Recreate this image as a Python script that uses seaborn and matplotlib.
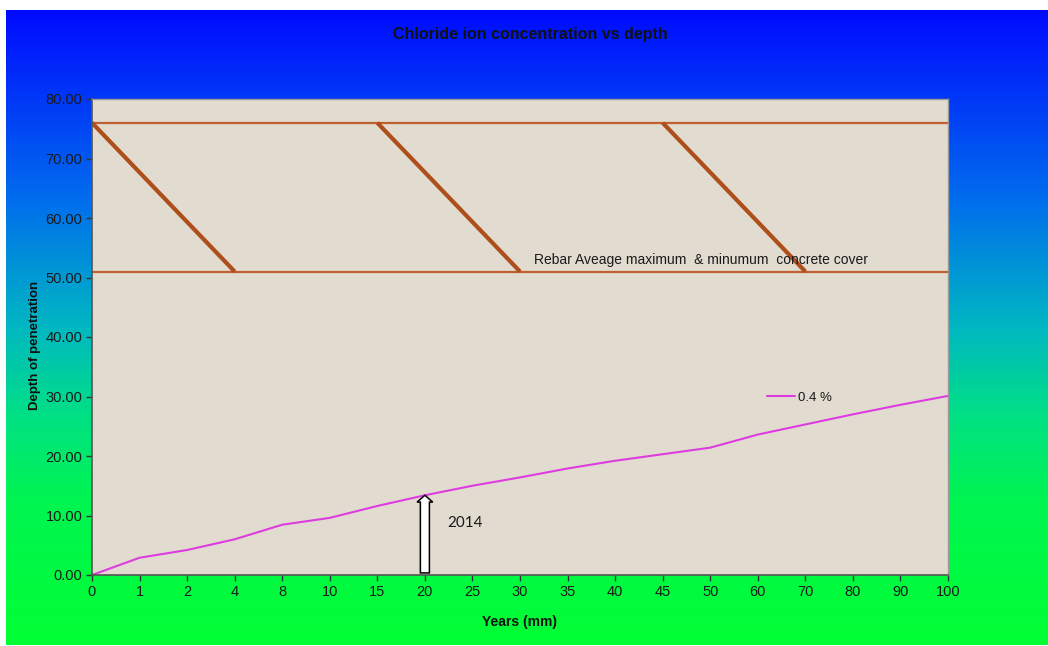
import numpy as np
import pandas as pd
import matplotlib
matplotlib.use("Agg")
import matplotlib.pyplot as plt
from matplotlib.colors import LinearSegmentedColormap
from matplotlib.patches import FancyArrow
import seaborn as sns

# ---- data -------------------------------------------------------------
years = ["0", "1", "2", "4", "8", "10", "15", "20", "25", "30",
         "35", "40", "45", "50", "60", "70", "80", "90", "100"]
depth_04 = [0.0, 2.9, 4.2, 6.0, 8.45, 9.6, 11.6, 13.4, 15.0, 16.4,
            17.9, 19.2, 20.3, 21.4, 23.6, 25.3, 27.0, 28.6, 30.1]
series_name = "0.4 %"

cover_max = 76.0
cover_min = 51.0
# hatch strokes between the two cover levels (start year, end year)
cover_strokes = [("0", "4"), ("15", "30"), ("45", "70")]
cover_text = "Rebar Aveage maximum  & minumum  concrete cover"

marker_year = "20"
marker_text = "2014"

y_ticks = [0, 10, 20, 30, 40, 50, 60, 70, 80]

# ---- figure -----------------------------------------------------------
W, H = 1048, 646
sns.set_theme(style="white")
plt.rcParams["font.family"] = ["Liberation Sans", "DejaVu Sans"]

fig = plt.figure(figsize=(W / 100, H / 100), dpi=100)
fig.patch.set_facecolor("white")

# gradient backdrop (blue at the top fading through teal to green)
bg = fig.add_axes([6 / W, 1 - 645 / H, 1 - 6 / W, (645 - 10) / H], zorder=0)
grad_cmap = LinearSegmentedColormap.from_list(
    "bluegreen",
    [(0.00, (0.00, 0.04, 1.00)),
     (0.30, (0.00, 0.43, 0.93)),
     (0.50, (0.00, 0.72, 0.76)),
     (0.64, (0.00, 0.88, 0.52)),
     (0.77, (0.00, 0.96, 0.32)),
     (1.00, (0.00, 1.00, 0.20))])
bg.imshow(np.linspace(0, 1, 512).reshape(-1, 1), aspect="auto",
          cmap=grad_cmap, extent=[0, 1, 0, 1], origin="upper")
bg.set_axis_off()

ax = fig.add_axes([92 / W, 1 - 575 / H, 856 / W, 476 / H], zorder=1)
ax.set_facecolor("#E2DBD0")

pos = np.arange(len(years))
df = pd.DataFrame({"pos": pos, "depth": depth_04, "series": series_name})

sns.lineplot(data=df, x="pos", y="depth", hue="series",
             palette=["#DD3DE0"], linewidth=1.5, ax=ax, sort=False)

# concrete cover levels
ax.axhline(cover_max, color="#C0602E", lw=1.6, zorder=2)
ax.axhline(cover_min, color="#C0602E", lw=1.6, zorder=2)
for a, b in cover_strokes:
    ax.plot([years.index(a), years.index(b)], [cover_max, cover_min],
            color="#AE4E1A", lw=3.0, solid_capstyle="butt", zorder=2)
ax.text(9.3, 52.9, cover_text, fontsize=10, color="#1a1a1a",
        ha="left", va="center")

# block arrow up to the curve at the marker year
mi = years.index(marker_year)
tip = depth_04[mi]
head_len = 1.15
arrow = FancyArrow(mi, 0.35, 0, tip - 0.35 - head_len, width=0.19,
                   head_width=0.33, head_length=head_len,
                   length_includes_head=False,
                   facecolor="white", edgecolor="black", lw=1.1, zorder=4)
ax.add_patch(arrow)
ax.text(7.47, 8.7, marker_text, fontsize=11, color="#1a1a1a",
        family=["Lato", "DejaVu Sans"], ha="left", va="center")

# axes
ax.set_xlim(0, len(years) - 1)
ax.set_ylim(0, 80)
ax.set_xticks(pos)
ax.set_xticklabels(years)
ax.set_yticks(y_ticks)
ax.set_yticklabels([f"{v:.2f}" for v in y_ticks])
ax.tick_params(axis="both", which="major", labelsize=10.5, colors="#333333",
               labelcolor="#1a1a1a", length=4, width=1, direction="out",
               bottom=True, left=True, pad=3)
for side in ["left", "bottom"]:
    ax.spines[side].set_color("#555555")
    ax.spines[side].set_linewidth(1.2)
for side in ["top", "right"]:
    ax.spines[side].set_color("#9a9a9a")
    ax.spines[side].set_linewidth(1.0)

ax.set_xlabel("Years (mm)", fontsize=10, fontweight="bold", color="#111111")
ax.xaxis.set_label_coords(0.5, -0.085)
ax.set_ylabel("Depth of penetration", fontsize=9.5, fontweight="bold",
              color="#111111")
ax.yaxis.set_label_coords(-0.060, 0.483)

leg = ax.legend(loc="center left", bbox_to_anchor=(0.789, 0.372),
                frameon=False, fontsize=9.5, handlelength=2.1,
                handletextpad=0.2, borderaxespad=0, borderpad=0)
for t in leg.get_texts():
    t.set_color("#1a1a1a")

fig.text(530 / W, 1 - 35 / H, "Chloride ion concentration vs depth",
         fontsize=11.5, fontweight="bold", color="#111111",
         family=["Liberation Sans Narrow", "Liberation Sans", "DejaVu Sans"],
         ha="center", va="center")

fig.savefig("out.png", dpi=100, facecolor=fig.get_facecolor())
